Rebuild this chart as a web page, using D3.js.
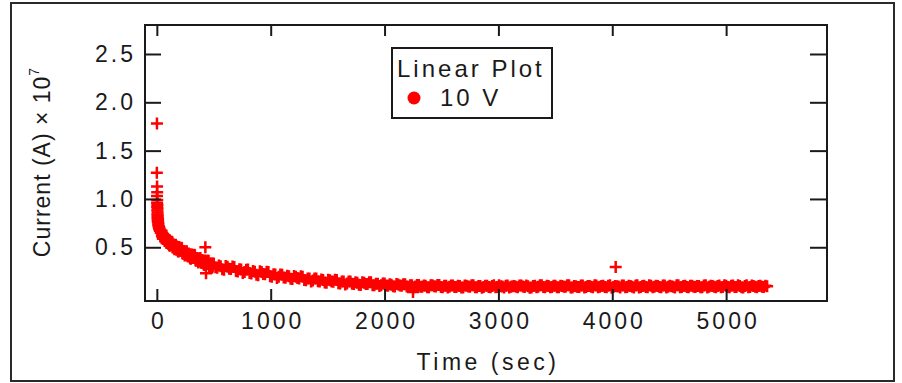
<!DOCTYPE html>
<html><head><meta charset="utf-8">
<script src="https://cdn.jsdelivr.net/npm/d3@7"></script>
<style>
body{margin:0;background:#fff}
svg{display:block}
text{font-family:"Liberation Sans",Arial,sans-serif;fill:#1a1a1a}
</style>
</head><body>
<svg id="c" width="902" height="383"></svg>
<script>
// ---------- data ----------
const xTicks = [0, 1000, 2000, 3000, 4000, 5000];
const yTicks = [0.5, 1.0, 1.5, 2.0, 2.5];
const legendTitle = "Linear Plot";
const seriesName = "10 V";

const earlyTime = [0,1,1,2,2,3,3,4,4,5,5,6,6,7,7,8,8,9,10,11,12,14,16,18,20,23,26,30,34,38,
 42,46,50,55,60,65,70,76,82,88,94,100,107,114,121,128,135,142,150,158,166,174,182,190,200,210,220,230,240,250,
 262,274,286,298,310,322,334,346,358,370,382,394,406,418,430,442,454,466,478,490];
const earlyCurrent = [1.27,1.78,1.03,1.13,0.96,1.07,0.92,0.99,0.88,0.94,0.84,0.90,0.81,0.86,0.79,0.83,0.77,0.80,0.76,0.78,0.73,0.75,0.71,0.72,0.69,0.70,0.67,0.68,0.65,0.66,
 0.670,0.615,0.633,0.587,0.621,0.592,0.618,0.561,0.588,0.555,0.587,0.536,0.558,0.515,0.553,0.525,0.553,0.497,0.525,0.493,
 0.526,0.475,0.497,0.455,0.492,0.463,0.490,0.433,0.460,0.427,0.458,0.405,0.425,0.382,0.419,0.390,0.417,0.360,0.387,0.355,
 0.388,0.337,0.359,0.317,0.355,0.328,0.357,0.302,0.331,0.300];

const earlyTime2 = [44,48,52,57,62,67,73,79,85,91,97,103,110,117,124,131,138,146,154,162,
 170,178,186,195,205,215,225,235,245,256,268,280,292,304,316,328,340,352,364,376,
 388,400,412,424,436,448,460,472,484,495];
const earlyCurrent2 = [0.622,0.644,0.594,0.633,0.597,0.625,0.566,0.589,0.543,0.585,
 0.541,0.567,0.520,0.562,0.529,0.558,0.501,0.525,0.480,0.523,
 0.480,0.506,0.459,0.502,0.468,0.496,0.438,0.461,0.415,0.456,
 0.411,0.435,0.387,0.429,0.395,0.423,0.365,0.388,0.342,0.385,
 0.342,0.368,0.321,0.364,0.332,0.362,0.306,0.331,0.287,0.331];

const tailTime = [500,530,560,590,620,650,680,710,740,770,
 800,830,860,890,920,950,980,1010,1040,1070,
 1100,1130,1160,1190,1220,1250,1280,1310,1340,1370,
 1400,1430,1460,1490,1520,1550,1580,1610,1640,1670,
 1700,1730,1760,1790,1820,1850,1880,1910,1940,1970,
 2000,2030,2060,2090,2120,2150,2180,2210,2240,2270,
 2300,2330,2360,2390,2420,2450,2480,2510,2540,2570,
 2600,2630,2660,2690,2720,2750,2780,2810,2840,2870,
 2900,2930,2960,2990,3020,3050,3080,3110,3140,3170,
 3200,3230,3260,3290,3320,3350,3380,3410,3440,3470,
 3500,3530,3560,3590,3620,3650,3680,3710,3740,3770,
 3800,3830,3860,3890,3920,3950,3980,4010,4040,4070,
 4100,4130,4160,4190,4220,4250,4280,4310,4340,4370,
 4400,4430,4460,4490,4520,4550,4580,4610,4640,4670,
 4700,4730,4760,4790,4820,4850,4880,4910,4940,4970,
 5000,5030,5060,5090,5120,5150,5180,5210,5240,5270,
 5300,5330,5360];
const tailCurrent = [0.330,0.288,0.304,0.268,0.299,0.275,0.297,0.249,0.271,0.245,
 0.270,0.229,0.246,0.211,0.243,0.220,0.243,0.196,0.219,0.194,
 0.216,0.184,0.199,0.171,0.196,0.178,0.196,0.159,0.177,0.157,
 0.178,0.146,0.161,0.134,0.160,0.143,0.162,0.126,0.145,0.126,
 0.147,0.120,0.133,0.110,0.134,0.119,0.137,0.106,0.123,0.107,
 0.125,0.101,0.113,0.094,0.115,0.102,0.118,0.092,0.107,0.094,
 0.110,0.092,0.102,0.087,0.106,0.095,0.110,0.087,0.102,0.091,
 0.104,0.088,0.098,0.084,0.103,0.092,0.107,0.086,0.100,0.089,
 0.101,0.087,0.106,0.090,0.097,0.083,0.104,0.092,0.099,0.086,
 0.105,0.089,0.096,0.084,0.102,0.091,0.107,0.087,0.098,0.090,
 0.103,0.086,0.100,0.092,0.106,0.084,0.097,0.089,0.104,0.088,
 0.099,0.085,0.105,0.091,0.102,0.087,0.106,0.090,0.097,0.084,
 0.104,0.090,0.098,0.083,0.107,0.089,0.101,0.086,0.103,0.092,
 0.100,0.087,0.105,0.091,0.097,0.084,0.106,0.089,0.102,0.086,
 0.103,0.088,0.099,0.085,0.106,0.092,0.098,0.087,0.104,0.090,
 0.101,0.086,0.105,0.090,0.098,0.084,0.107,0.089,0.100,0.087,
 0.103,0.089,0.097];

const tailTime2 = [515,545,575,605,635,665,695,725,755,785,
 815,845,875,905,935,965,995,1025,1055,1085,
 1115,1145,1175,1205,1235,1265,1295,1325,1355,1385,
 1415,1445,1475,1505,1535,1565,1595,1625,1655,1685,
 1715,1745,1775,1805,1835,1865,1895,1925,1955,1985,
 2015,2045,2075,2105,2135,2165,2195,2225,2255,2285,
 2315,2345,2375,2405,2435,2465,2495,2525,2555,2585,
 2615,2645,2675,2705,2735,2765,2795,2825,2855,2885,
 2915,2945,2975,3005,3035,3065,3095,3125,3155,3185,
 3215,3245,3275,3305,3335,3365,3395,3425,3455,3485,
 3515,3545,3575,3605,3635,3665,3695,3725,3755,3785,
 3815,3845,3875,3905,3935,3965,3995,4025,4055,4085,
 4115,4145,4175,4205,4235,4265,4295,4325,4355,4385,
 4415,4445,4475,4505,4535,4565,4595,4625,4655,4685,
 4715,4745,4775,4805,4835,4865,4895,4925,4955,4985,
 5015,5045,5075,5105,5135,5165,5195,5225,5255,5285,
 5315,5345];
const tailCurrent2 = [0.293,0.312,0.273,0.307,0.279,0.301,0.254,0.272,0.233,0.268,
 0.234,0.254,0.216,0.251,0.224,0.247,0.201,0.220,0.182,0.218,
 0.187,0.204,0.174,0.202,0.181,0.199,0.162,0.178,0.147,0.176,
 0.149,0.166,0.136,0.165,0.145,0.164,0.128,0.145,0.115,0.146,
 0.122,0.138,0.113,0.139,0.121,0.139,0.108,0.123,0.098,0.125,
 0.104,0.117,0.096,0.119,0.104,0.118,0.094,0.107,0.086,0.110,
 0.092,0.105,0.087,0.107,0.096,0.109,0.088,0.101,0.083,0.104,
 0.090,0.101,0.084,0.104,0.093,0.107,0.086,0.099,0.082,0.103,
 0.088,0.100,0.085,0.106,0.094,0.102,0.083,0.097,0.091,0.105,
 0.093,0.104,0.082,0.099,0.087,0.106,0.090,0.101,0.085,0.103,
 0.086,0.102,0.091,0.107,0.084,0.098,0.089,0.105,0.083,0.100,
 0.091,0.106,0.085,0.100,0.088,0.103,0.082,0.099,0.093,0.104,
 0.087,0.101,0.092,0.105,0.083,0.099,0.090,0.107,0.086,0.102,
 0.089,0.104,0.084,0.101,0.092,0.106,0.085,0.098,0.088,0.103,
 0.092,0.100,0.086,0.105,0.083,0.102,0.091,0.099,0.085,0.106,
 0.088,0.103,0.090,0.106,0.085,0.100,0.087,0.104,0.092,0.098,
 0.091,0.102];

const outlierTime = [426, 432, 2250, 4030];
const outlierCurrent = [0.50, 0.23, 0.037, 0.296];

// ---------- layout ----------
const L = 145, R = 827, T = 25, B = 301;
const svg = d3.select("#c");

const x = d3.scaleLinear().domain([-104, 5886]).range([L, R]);
const y = d3.scaleLinear().domain([-0.056, 2.8]).range([B, T]);

// outer frame
svg.append("rect").attr("x", 11).attr("y", 3).attr("width", 883).attr("height", 378)
  .attr("fill", "none").attr("stroke", "#2a2a2a").attr("stroke-width", 2);

// data
const pts = [];
earlyTime.forEach((t, i) => pts.push([t, earlyCurrent[i]]));
earlyTime2.forEach((t, i) => pts.push([t, earlyCurrent2[i]]));
tailTime.forEach((t, i) => pts.push([t, tailCurrent[i]]));
tailTime2.forEach((t, i) => pts.push([t, tailCurrent2[i]]));
outlierTime.forEach((t, i) => pts.push([t, outlierCurrent[i]]));

svg.append("g").selectAll("path").data(pts).join("path")
  .attr("transform", d => `translate(${x(d[0])},${y(d[1])})`)
  .attr("d", "M-6,0H6M0,-6V6")
  .attr("stroke", "#ff0000").attr("stroke-width", 2.5).attr("fill", "none");

// axes
const tickStyle = g => {
  g.select(".domain").remove();
  g.selectAll(".tick line").attr("stroke", "#1a1a1a").attr("stroke-width", 2);
  g.selectAll(".tick text").attr("font-size", 23).attr("letter-spacing", 3)
    .attr("fill", "#1a1a1a").attr("font-family", '"Liberation Sans",Arial,sans-serif');
};

svg.append("g").attr("transform", `translate(0,${B})`)
  .call(d3.axisBottom(x).tickValues(xTicks).tickSize(-12).tickPadding(12).tickFormat(d3.format("d")))
  .call(tickStyle)
  .selectAll(".tick text").attr("dx", 1.5);

svg.append("g").attr("transform", `translate(0,${T})`)
  .call(d3.axisTop(x).tickValues(xTicks).tickSize(-11).tickFormat(""))
  .call(tickStyle);

svg.append("g").attr("transform", `translate(${L},0)`)
  .call(d3.axisLeft(y).tickValues(yTicks).tickSize(-16).tickPadding(9).tickFormat(d3.format(".1f")))
  .call(tickStyle);

svg.append("g").attr("transform", `translate(${R},0)`)
  .call(d3.axisRight(y).tickValues(yTicks).tickSize(-17).tickFormat(""))
  .call(tickStyle);

// plot frame
svg.append("rect").attr("x", L).attr("y", T).attr("width", R - L).attr("height", B - T)
  .attr("fill", "none").attr("stroke", "#1a1a1a").attr("stroke-width", 2);

// axis titles
svg.append("text").attr("x", (L + R) / 2 + 2).attr("y", 370)
  .attr("text-anchor", "middle").attr("font-size", 23).attr("letter-spacing", 3.5)
  .text("Time (sec)");

const yt = svg.append("text").attr("transform", "translate(50,162) rotate(-90)")
  .attr("text-anchor", "middle").attr("font-size", 23).attr("letter-spacing", 1);
yt.append("tspan").text("Current (A) × 10");
yt.append("tspan").attr("font-size", 14).attr("dy", -11).text("7");

// legend
svg.append("rect").attr("x", 392).attr("y", 48).attr("width", 160).attr("height", 70)
  .attr("fill", "#fff").attr("stroke", "#1a1a1a").attr("stroke-width", 2);
svg.append("text").attr("x", 397).attr("y", 77).attr("font-size", 24).attr("letter-spacing", 3)
  .text(legendTitle);
svg.append("circle").attr("cx", 414).attr("cy", 98).attr("r", 6.5).attr("fill", "#ff0000");
svg.append("text").attr("x", 440).attr("y", 106).attr("font-size", 24).attr("letter-spacing", 3)
  .text(seriesName);
</script>
</body></html>
